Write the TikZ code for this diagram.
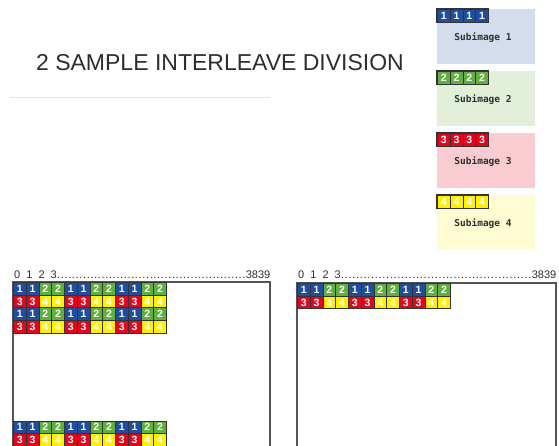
\documentclass[tikz,border=0pt]{standalone}
\usepackage{fontspec}
\setmainfont{Liberation Sans}
\newfontfamily\submono{DejaVu Sans Mono}
\definecolor{cA}{HTML}{1F4E9F}
\definecolor{cB}{HTML}{5FB03C}
\definecolor{cC}{HTML}{E2051B}
\definecolor{cD}{HTML}{FFF000}
\definecolor{lA}{HTML}{D4DDEE}
\definecolor{lB}{HTML}{E2F0D9}
\definecolor{lC}{HTML}{F9CCD1}
\definecolor{lD}{HTML}{FFFCD3}
\definecolor{cellline}{HTML}{333333}
\definecolor{framec}{HTML}{555555}
\definecolor{txt}{HTML}{2E2E2E}
\begin{document}
\begin{tikzpicture}[x=1pt,y=-1pt,
  cell/.style={draw=cellline, line width=0.7pt, minimum width=12.75pt, minimum height=12.7pt,
    inner sep=0pt, anchor=north west, text=white, font=\fontsize{10.5}{10.5}\selectfont\bfseries},
  frameline/.style={draw=framec, line width=1.3pt},
  subbox/.style={minimum width=98pt, minimum height=55pt, inner sep=0pt, anchor=north west},
  sublabel/.style={text=txt, font=\submono\fontsize{9.5}{9.5}\selectfont\bfseries, inner sep=0pt},
  scale label/.style={text=txt, font=\fontsize{11}{11}\selectfont, inner sep=0pt, anchor=base west}]
\useasboundingbox (0,0) rectangle (559,445);
\fill[white] (0,0) rectangle (559,445);

% title
\node[text=txt, font=\fontsize{23}{23}\selectfont, anchor=base, inner sep=0pt] (title) at (220,70) {2 SAMPLE INTERLEAVE DIVISION};
\coordinate (ulA) at (10,97);
\coordinate (ulB) at (270,97);
\draw[black!10, line width=1pt] (ulA) -- (ulB);

% subimage legend boxes
\foreach \k/\yy in {1/9,2/71,3/133,4/195}{
  \ifcase\k\or\def\lc{lA}\def\dc{cA}\or\def\lc{lB}\def\dc{cB}\or\def\lc{lC}\def\dc{cC}\or\def\lc{lD}\def\dc{cD}\fi
  \node[subbox, fill=\lc] (sub\k) at (437,\yy) {};
  \foreach \i in {0,...,3}{
    \node[cell, fill=\dc] (sub\k c\i) at (437+\i*12.75,\yy) {\k};
  }
  \draw[cellline, line width=1.2pt] (sub\k c0.north west) rectangle (sub\k c3.south east);
  \node[sublabel] (sub\k t) at (483,\yy+29) {Subimage \k};
}

% frames
\draw[frameline] (13,446) -- (13,282) -- (270,282) -- (270,446);
\draw[frameline] (297,446) -- (297,283) -- (556,283) -- (556,446);

% scale labels
\node[scale label] (scaleL) at (14,278) {\makebox[256pt][l]{0\hspace{3pt} 1\hspace{3pt} 2\hspace{3pt} 3\xleaders\hbox to 3.7pt{\hss.\hss}\hfill 3839}};
\node[scale label] (scaleR) at (298,278) {\makebox[258pt][l]{0\hspace{3pt} 1\hspace{3pt} 2\hspace{3pt} 3\xleaders\hbox to 3.7pt{\hss.\hss}\hfill 3839}};

% left frame cells
\foreach \r/\yy in {0/282,1/294.7,2/307.4,3/320.1,4/420.5,5/433.2}{
  \foreach \c in {0,...,11}{
    \pgfmathtruncatemacro\g{mod(int(\c/2),2)}
    \pgfmathtruncatemacro\d{1+\g+2*mod(\r,2)}
    \ifcase\d\or\def\fc{cA}\or\def\fc{cB}\or\def\fc{cC}\or\def\fc{cD}\fi
    \node[cell, fill=\fc] (L\r c\c) at (13+\c*12.75,\yy) {\d};
  }
}
% right frame cells
\foreach \r/\yy in {0/283,1/295.7}{
  \foreach \c in {0,...,11}{
    \pgfmathtruncatemacro\g{mod(int(\c/2),2)}
    \pgfmathtruncatemacro\d{1+\g+2*mod(\r,2)}
    \ifcase\d\or\def\fc{cA}\or\def\fc{cB}\or\def\fc{cC}\or\def\fc{cD}\fi
    \node[cell, fill=\fc] (R\r c\c) at (297+\c*12.75,\yy) {\d};
  }
}
\end{tikzpicture}
\end{document}
